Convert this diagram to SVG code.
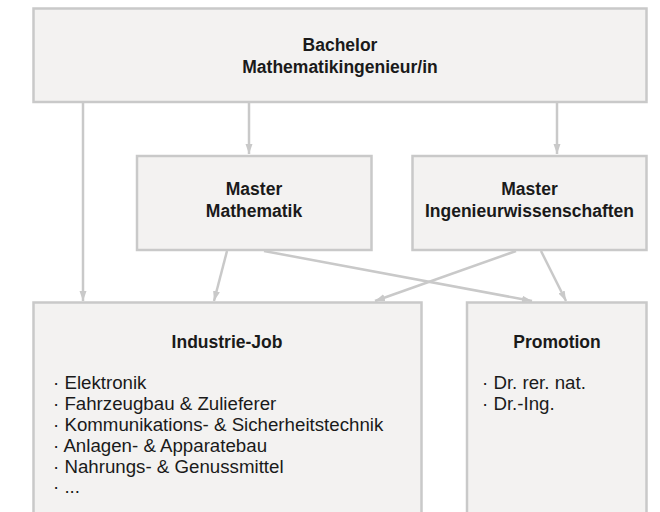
<svg xmlns="http://www.w3.org/2000/svg" width="660" height="512" viewBox="0 0 660 512">
<style>
.box{fill:#f3f2f1;stroke:#c9c9c9;stroke-width:2.5}
.t{font-family:"Liberation Sans",Arial,sans-serif;font-size:17.5px;font-weight:bold;fill:#1a1a1a;text-anchor:middle}
.l{font-family:"Liberation Sans",Arial,sans-serif;font-size:18.7px;fill:#1a1a1a}
.c{fill:none;stroke:#c9c9c9;stroke-width:2.5}
</style>
<defs>
<marker id="ah" markerUnits="userSpaceOnUse" markerWidth="11" markerHeight="8" refX="10" refY="3.5" orient="auto">
<path d="M0,0 L10,3.5 L0,7 z" fill="#c9c9c9"/>
</marker>
</defs>
<rect width="660" height="512" fill="#ffffff"/>
<g id="connectors">
<path class="c" d="M83,103 L83,301" marker-end="url(#ah)"/>
<path class="c" d="M249,103 L249,154" marker-end="url(#ah)"/>
<path class="c" d="M557,103 L557,154" marker-end="url(#ah)"/>
<path class="c" d="M227,251 L214,301" marker-end="url(#ah)"/>
<path class="c" d="M264,251 L532,301" marker-end="url(#ah)"/>
<path class="c" d="M516,251 L375,301" marker-end="url(#ah)"/>
<path class="c" d="M541,251 L566,301" marker-end="url(#ah)"/>
</g>
<g id="bachelor">
<rect class="box" x="33.5" y="8.5" width="613" height="93.5"/>
<text class="t" x="340" y="51">Bachelor</text>
<text class="t" x="340" y="73">Mathematikingenieur/in</text>
</g>
<g id="master-mathematik">
<rect class="box" x="137" y="156" width="234.5" height="94"/>
<text class="t" x="254" y="195">Master</text>
<text class="t" x="254" y="217">Mathematik</text>
</g>
<g id="master-ingenieur">
<rect class="box" x="412.5" y="156" width="234" height="94"/>
<text class="t" x="529.5" y="195">Master</text>
<text class="t" x="529.5" y="217">Ingenieurwissenschaften</text>
</g>
<g id="industrie-job">
<rect class="box" x="33.5" y="302.5" width="388" height="220"/>
<text class="t" x="227" y="348">Industrie-Job</text>
<text class="l" x="53" y="389">· Elektronik</text>
<text class="l" x="53" y="410">· Fahrzeugbau &amp; Zulieferer</text>
<text class="l" x="53" y="431">· Kommunikations- &amp; Sicherheitstechnik</text>
<text class="l" x="53" y="452">· Anlagen- &amp; Apparatebau</text>
<text class="l" x="53" y="472.5">· Nahrungs- &amp; Genussmittel</text>
<text class="l" x="53" y="493">· ...</text>
</g>
<g id="promotion">
<rect class="box" x="467" y="302.5" width="179.5" height="220"/>
<text class="t" x="557" y="348">Promotion</text>
<text class="l" x="482" y="389">· Dr. rer. nat.</text>
<text class="l" x="482" y="410">· Dr.-Ing.</text>
</g>
</svg>
